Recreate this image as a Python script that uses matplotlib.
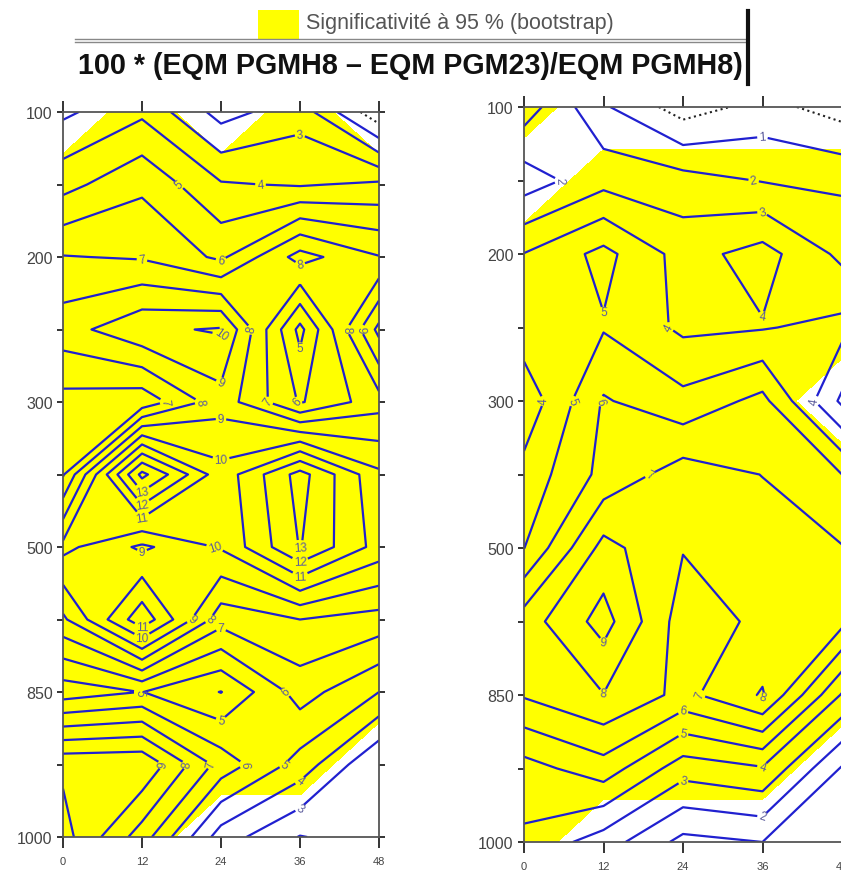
import numpy as np
import matplotlib
matplotlib.use('Agg')
import matplotlib.pyplot as plt
from matplotlib.patches import Rectangle
from matplotlib.lines import Line2D

# échéances (h) et niveaux de pression (hPa)
echeances = [0, 12, 24, 36, 48]
niveaux = [100, 150, 200, 250, 300, 400, 500, 700, 850, 925, 1000]
niveaux_etiquetes = [100, 200, 300, 500, 850, 1000]

# 100 * (EQM PGMH8 - EQM PGM23) / EQM PGMH8, une ligne par niveau
gauche = [
    [2.8, 3.8, 1.6, 2.6, -0.8],
    [4.65, 5.8, 4.1, 3.9, 4.2],
    [7.05, 6.9, 5.8, 8.4, 7.05],
    [8.55, 9.8, 10.1, 4.7, 10.3],
    [6.65, 6.34, 8.6, 5.9, 7.6],
    [6.9, 14.3, 10.35, 13.4, 10.2],
    [10.3, 8.8, 10.1, 13.05, 10.6],
    [7.8, 11.7, 7.4, 8.0, 7.6],
    [4.45, 5.02, 3.97, 6.44, 5.0],
    [9.8, 9.86, 6.6, 4.6, 2.0],
    [10.4, 7.5, 3.5, 1.95, 2.5],
]
droite = [
    [3.54, 1.14, -0.5, 0.35, -0.46],
    [1.47, 2.65, 2.4, 1.95, 1.8],
    [4.03, 5.3, 3.6, 4.4, 2.75],
    [4.6, 4.92, 3.8, 3.93, 4.3],
    [3.3, 6.1, 5.3, 6.3, 2.8],
    [4.33, 6.3, 7.5, 6.98, 6.0],
    [4.98, 8.35, 7.05, 7.5, 7.05],
    [7.5, 9.4, 6.5, 7.2, 7.3],
    [7.1, 7.97, 6.7, 8.1, 3.9],
    [4.6, 5.56, 3.45, 3.9, 0.9],
    [3.8, 2.5, 0.7, 1.0, 0.4],
]

# significativité à 95 % (1 = significatif)
signif_gauche = [
    [0, 1, 0, 1, 0],
    [1, 1, 1, 1, 1],
    [1, 1, 1, 1, 1],
    [1, 1, 1, 1, 1],
    [1, 1, 1, 1, 1],
    [1, 1, 1, 1, 1],
    [1, 1, 1, 1, 1],
    [1, 1, 1, 1, 1],
    [1, 1, 1, 1, 1],
    [1, 1, 1, 1, 0],
    [1, 1, 0, 0, 0],
]
signif_droite = [
    [1, 0, 0, 0, 0],
    [0, 1, 1, 1, 1],
    [1, 1, 1, 1, 1],
    [1, 1, 1, 1, 1],
    [1, 1, 1, 1, 0],
    [1, 1, 1, 1, 1],
    [1, 1, 1, 1, 1],
    [1, 1, 1, 1, 1],
    [1, 1, 1, 1, 1],
    [1, 1, 1, 1, 0],
    [1, 0, 0, 0, 0],
]

plt.rcParams['font.family'] = ['Liberation Sans', 'DejaVu Sans']

W, H = 841, 878
fig = plt.figure(figsize=(W / 100, H / 100), dpi=100)


def px(x0, y0, x1, y1):
    # rectangle en pixels (haut-gauche / bas-droite) -> fraction de figure
    return [x0 / W, 1 - y1 / H, (x1 - x0) / W, (y1 - y0) / H]


def panneau(rect, valeurs, signif):
    ax = fig.add_axes(rect)
    lig = np.arange(len(niveaux))
    X, Y = np.meshgrid(echeances, lig)
    Z = np.array(valeurs)
    S = np.array(signif, dtype=float)

    ax.contourf(X, Y, S, levels=[0.58, 1.5], colors=['#ffff00'])
    cs = ax.contour(X, Y, Z, levels=np.arange(1, 15), colors='#2020d0',
                    linewidths=1.6)
    # placement auto, puis on écarte les étiquettes collées aux bords
    essai = ax.clabel(cs, fmt='%d', fontsize=8.5, inline=False)
    pts = [t.get_position() for t in essai]
    for t in essai:
        t.remove()
    pts = [p for p in pts if 1.5 < p[0] < 46.5 and 0.25 < p[1] < 9.75]
    ax.clabel(cs, fmt='%d', fontsize=8.5, inline=True, inline_spacing=2,
              colors='#5c5c9c', manual=pts)
    if Z.min() < 0:
        ax.contour(X, Y, Z, levels=[0], colors='#222222', linewidths=1.5,
                   linestyles=':')

    ax.set_xlim(0, 48)
    ax.set_ylim(len(niveaux) - 1, 0)
    ax.set_xticks(echeances)
    ax.set_xticklabels([str(e) for e in echeances])
    ax.set_yticks(lig)
    ax.set_yticklabels([str(n) if n in niveaux_etiquetes else '' for n in niveaux])
    ax.tick_params(axis='x', direction='out', length=8, width=1.4, top=True,
                   labelsize=8, color='#333333', labelcolor='#444444', pad=6)
    ax.tick_params(axis='y', direction='out', length=4.5, width=1.4, right=True,
                   labelsize=11.5, color='#333333', labelcolor='#444444', pad=3)
    for sp in ax.spines.values():
        sp.set_color('#555555')
        sp.set_linewidth(1.3)
    return ax


panneau(px(63, 113, 379, 838), gauche, signif_gauche)
panneau(px(524, 108, 842, 843), droite, signif_droite)

# légende et titre
fig.add_artist(Rectangle((258 / W, 1 - 40 / H), 41 / W, 29 / H,
                         transform=fig.transFigure, facecolor='#ffff00',
                         edgecolor='none'))
fig.text(306 / W, 1 - 23 / H, 'Significativité à 95 % (bootstrap)',
         fontsize=15.5, color='#555555', va='center', ha='left')
for yl in (40, 43):
    fig.add_artist(Line2D([75 / W, 748 / W], [1 - yl / H, 1 - yl / H],
                          transform=fig.transFigure, color='#888888', lw=1))
fig.text(78 / W, 1 - 66 / H, '100 * (EQM PGMH8 – EQM PGM23)/EQM PGMH8)',
         fontsize=20.7, fontweight='bold', color='#111111', va='center', ha='left')
fig.add_artist(Line2D([748 / W, 748 / W], [1 - 12 / H, 1 - 85 / H],
                      transform=fig.transFigure, color='#111111', lw=3))

fig.savefig('out.png', dpi=100)
